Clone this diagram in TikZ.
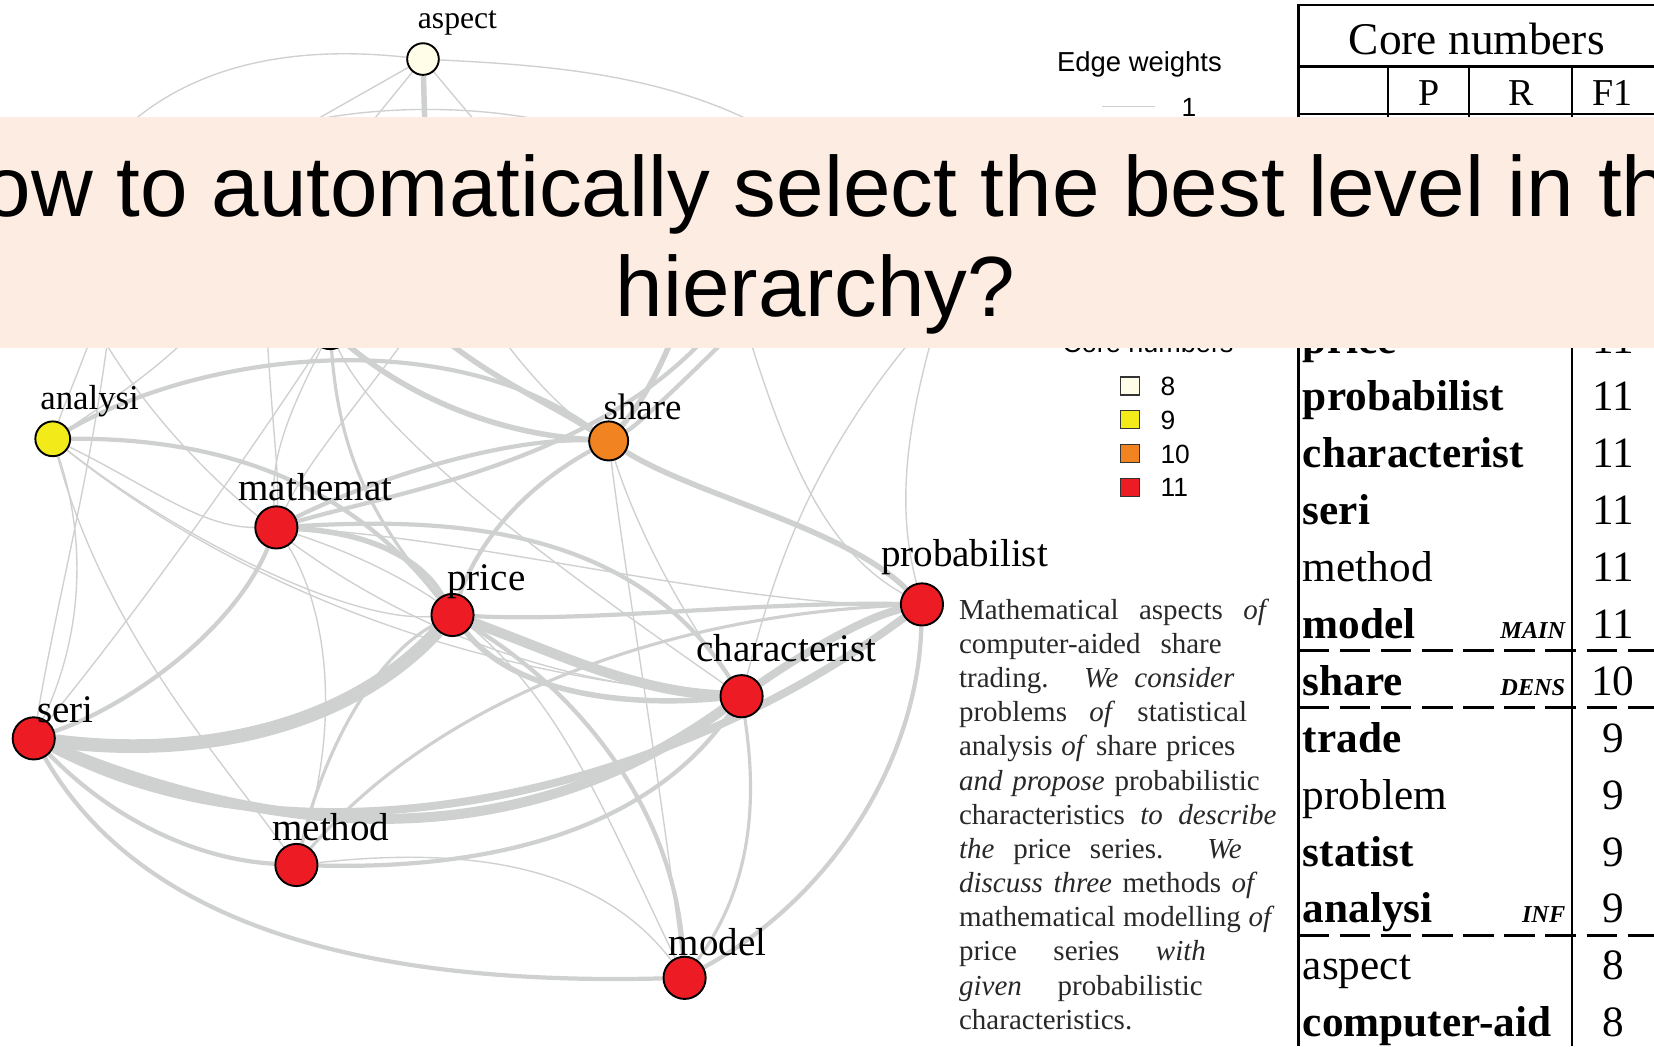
\documentclass[tikz,border=0pt]{standalone}
\usepackage{fontspec}
\setmainfont{Liberation Serif}
\newfontfamily\sansf{Liberation Sans}
\newcommand\fsz[1]{\fontsize{#1}{#1}\selectfont}
\definecolor{eg}{RGB}{207,208,208}
\definecolor{nred}{RGB}{237,28,36}
\definecolor{norange}{RGB}{241,132,32}
\definecolor{nyellow}{RGB}{242,235,25}
\definecolor{ncream}{RGB}{255,253,232}
\definecolor{bandcol}{RGB}{253,236,225}
\definecolor{abstxt}{RGB}{40,40,40}
\pgfdeclarelayer{edges}
\pgfsetlayers{edges,main}
\begin{document}
\begin{tikzpicture}[x=1pt,y=-1pt,
  vtx/.style={circle,draw=black,line width=1.8pt,inner sep=0pt,minimum size=40pt,fill=nred},
  lbl/.style={anchor=base west,inner sep=0pt,font=\fsz{37}},
  w1/.style={draw=eg,line width=1.3pt},
  w2/.style={draw=eg,line width=3pt},
  w3/.style={draw=eg,line width=4pt},
  w4/.style={draw=eg,line width=5.2pt},
  w6/.style={draw=eg,line width=7.5pt},
  w7/.style={draw=eg,line width=9.5pt},
  w10/.style={draw=eg,line width=13pt},
  absline/.style={anchor=base west,inner sep=0pt,font=\fsz{27.5},text=abstxt},
  rowr/.style={anchor=base west,inner sep=0pt,font=\fsz{41}},
  rowb/.style={anchor=base west,inner sep=0pt,font=\bfseries\fsz{41}},
  num/.style={anchor=base,inner sep=0pt,font=\fsz{41}},
  tag/.style={anchor=base east,inner sep=0pt,font=\bfseries\itshape\fsz{23}},
  rule/.style={line width=2pt},
  dashrule/.style={line width=3pt,dash pattern=on 29pt off 10pt},
  key/.style={draw=black!80,line width=1.2pt,minimum width=18pt,minimum height=17pt,inner sep=0pt},
  keytxt/.style={anchor=base west,inner sep=0pt,font=\sansf\fsz{25}}
]
\useasboundingbox (0,0) rectangle (1568,992);
\clip (0,0) rectangle (1568,992);

% ---------- vertices ----------
\node[vtx,fill=ncream,minimum size=30pt] (asp) at (401,56) {};
\node[vtx,fill=nyellow,minimum size=36pt] (trd) at (313,313) {};
\node[vtx,fill=nyellow,minimum size=33pt] (ana) at (50,416) {};
\node[vtx,fill=norange,minimum size=37pt] (sha) at (577,418) {};
\node[vtx] (mat) at (262,500) {};
\node[vtx] (pri) at (429,583) {};
\node[vtx] (pro) at (874,573) {};
\node[vtx] (cha) at (703,660) {};
\node[vtx] (ser) at (32,700) {};
\node[vtx] (met) at (281,820) {};
\node[vtx] (mod) at (649,927) {};

% vertices whose discs lie under the title band
\coordinate (hA) at (110,250);
\coordinate (hA2) at (70,270);
\coordinate (hB) at (230,260);
\coordinate (hB2) at (250,250);
\coordinate (hC) at (430,250);
\coordinate (hX) at (350,250);
\coordinate (hE) at (660,250);
\coordinate (hE2) at (690,250);
\coordinate (hF) at (720,250);
\coordinate (hF2) at (760,250);
\coordinate (hG) at (905,250);
\coordinate (hG2) at (930,250);
\coordinate (tA) at (100,140);
\coordinate (tB) at (740,130);
\coordinate (tC) at (405,200);
\coordinate (tD) at (200,170);
\coordinate (tE) at (300,180);
\coordinate (tF) at (505,180);
\coordinate (tG) at (240,130);
\coordinate (tH) at (570,130);

% ---------- weighted edges ----------
\begin{pgfonlayer}{edges}
\clip (0,0) rectangle (1568,992);
% around the top vertex
\draw[w1] (asp) .. controls (300,45) and (180,50) .. (tA);
\draw[w1] (asp) .. controls (520,62) and (640,70) .. (tB);
\draw[w4] (asp) -- (tC);
\draw[w1] (asp) -- (tD);
\draw[w1] (asp) -- (tE);
\draw[w1] (asp) -- (tF);
\draw[w1] (tG) .. controls (330,95) and (480,95) .. (tH);
% light edges
\draw[w1] (ana) .. controls (62,380) and (85,330) .. (hA);
\draw[w1] (ana) .. controls (120,370) and (180,330) .. (hB);
\draw[w1] (ser) .. controls (55,560) and (95,420) .. (hA);
\draw[w1] (ana) .. controls (85,520) and (75,610) .. (ser);
\draw[w1] (ana) .. controls (140,460) and (190,500) .. (mat);
\draw[w1] (ana) .. controls (170,510) and (330,590) .. (pri);
\draw[w1] (ana) .. controls (230,560) and (450,640) .. (cha);
\draw[w1] (ana) .. controls (100,600) and (210,720) .. (met);
\draw[w1] (ser) .. controls (130,580) and (230,440) .. (trd);
\draw[w1] (hA2) .. controls (160,460) and (380,640) .. (cha);
\draw[w1] (hB2) .. controls (256,400) and (265,440) .. (mat);
\draw[w1] (hC) .. controls (380,340) and (300,420) .. (mat);
\draw[w1] (trd) .. controls (360,420) and (560,560) .. (cha);
\draw[w1] (trd) .. controls (280,380) and (255,430) .. (mat);
\draw[w1] (mat) .. controls (300,560) and (330,660) .. (met);
\draw[w1] (mat) .. controls (500,580) and (540,700) .. (mod);
\draw[w1] (mat) .. controls (450,510) and (700,575) .. (pro);
\draw[w1] (pro) .. controls (780,520) and (740,430) .. (hE2);
\draw[w1] (pro) .. controls (850,480) and (855,400) .. (hG);
\draw[w1] (cha) .. controls (740,520) and (780,400) .. (hG2);
\draw[w1] (sha) .. controls (595,560) and (620,700) .. (mod);
\draw[w1] (sha) .. controls (610,520) and (660,600) .. (cha);
\draw[w1] (met) .. controls (420,805) and (560,810) .. (mod);
\draw[w1] (sha) .. controls (520,380) and (470,320) .. (hC);
% medium edges
\draw[w3] (ana) .. controls (200,330) and (430,310) .. (sha);
\draw[w3] (ana) .. controls (230,415) and (340,470) .. (pri);
\draw[w2] (trd) .. controls (322,440) and (360,500) .. (pri);
\draw[w4] (trd) .. controls (380,370) and (460,410) .. (sha);
\draw[w4] (hX) .. controls (420,340) and (500,370) .. (sha);
\draw[w4] (mat) .. controls (350,505) and (400,530) .. (pri);
\draw[w3] (mat) .. controls (430,490) and (600,500) .. (cha);
\draw[w3] (mat) .. controls (340,460) and (470,415) .. (sha);
\draw[w3] (mat) .. controls (400,460) and (620,430) .. (hF);
\draw[w3] (mat) .. controls (220,600) and (120,670) .. (ser);
\draw[w3] (sha) .. controls (500,460) and (455,510) .. (pri);
\draw[w4] (sha) .. controls (660,470) and (800,500) .. (pro);
\draw[w4] (sha) .. controls (610,380) and (640,330) .. (hE);
\draw[w3] (sha) .. controls (610,400) and (690,320) .. (hF2);
\draw[w3] (pri) .. controls (540,650) and (640,760) .. (mod);
\draw[w2] (met) .. controls (310,700) and (360,620) .. (pri);
\draw[w3] (ser) .. controls (110,780) and (190,815) .. (met);
\draw[w3] (met) .. controls (480,825) and (620,780) .. (cha);
\draw[w3] (ser) .. controls (130,870) and (330,935) .. (mod);
\draw[w2] (mod) .. controls (720,830) and (715,740) .. (cha);
\draw[w3] (mod) .. controls (790,850) and (870,720) .. (pro);
\draw[w3] (pri) .. controls (560,590) and (720,570) .. (pro);
\draw[w2] (met) .. controls (400,680) and (600,585) .. (pro);
% heavy edges
\draw[w10] (ser) .. controls (190,720) and (330,690) .. (pri);
\draw[w7] (pri) .. controls (530,620) and (600,655) .. (cha);
\draw[w4] (pri) .. controls (490,660) and (600,670) .. (cha);
\draw[w7] (ser) .. controls (250,790) and (480,820) .. (cha);
\draw[w6] (ser) .. controls (280,830) and (620,760) .. (pro);
\draw[w6] (cha) .. controls (760,620) and (820,585) .. (pro);
\end{pgfonlayer}

% ---------- vertex labels ----------
\node[lbl,font=\fsz{30}] (l-asp) at (396,27) {aspect};
\node[lbl,font=\fsz{33}] (l-ana) at (38,388) {analysi};
\node[lbl,font=\fsz{35}] (l-sha) at (572,398) {share};
\node[lbl] (l-mat) at (226,474) {mathemat};
\node[lbl] (l-pri) at (424,560) {price};
\node[lbl] (l-pro) at (835,537) {probabilist};
\node[lbl] (l-cha) at (660,627) {characterist};
\node[lbl] (l-ser) at (35,685) {seri};
\node[lbl] (l-met) at (258,797) {method};
\node[lbl] (l-mod) at (634,906) {model};

% ---------- legends ----------
\node[anchor=base west,inner sep=0pt,font=\sansf\fsz{26}] (ewt) at (1002,68) {Edge weights};
\coordinate (ew0) at (1045,101);
\coordinate (ew1) at (1095,101);
\draw[w1] (ew0) -- (ew1);
\node[keytxt] (ew1t) at (1120,110) {1};
\node[anchor=base west,inner sep=0pt,font=\sansf\fsz{25.6}] (cnt) at (1007,334) {Core numbers};
\node[key,fill=ncream] (k8) at (1071,366) {};
\node[key,fill=nyellow] (k9) at (1071,398) {};
\node[key,fill=norange] (k10) at (1071,430) {};
\node[key,fill=nred] (k11) at (1071,462) {};
\node[keytxt] (k8t) at (1100,375) {8};
\node[keytxt] (k9t) at (1100,407) {9};
\node[keytxt] (k10t) at (1100,439) {10};
\node[keytxt] (k11t) at (1100,471) {11};

% ---------- abstract ----------
\node[absline] (a1) at (909,587) {\makebox[294pt][s]{Mathematical aspects \textit{of}}};
\node[absline] (a2) at (909,619.4) {\makebox[249pt][s]{computer-aided share}};
\node[absline] (a3) at (909,651.8) {\makebox[261pt][s]{trading. \textit{We consider}}};
\node[absline] (a4) at (909,684.2) {\makebox[273pt][s]{problems \textit{of} statistical}};
\node[absline] (a5) at (909,716.6) {\makebox[262pt][s]{analysis \textit{of} share prices}};
\node[absline] (a6) at (909,749) {\makebox[285pt][s]{\textit{and propose} probabilistic}};
\node[absline] (a7) at (909,781.4) {\makebox[301pt][s]{characteristics \textit{to describe}}};
\node[absline] (a8) at (909,813.8) {\makebox[268pt][s]{\textit{the} price series. \textit{We}}};
\node[absline] (a9) at (909,846.2) {\makebox[283pt][s]{\textit{discuss three} methods \textit{of}}};
\node[absline] (a10) at (909,878.6) {\makebox[299pt][s]{mathematical modelling \textit{of}}};
\node[absline] (a11) at (909,911) {\makebox[234pt][s]{price series \textit{with}}};
\node[absline] (a12) at (909,943.4) {\makebox[231pt][s]{\textit{given} probabilistic}};
\node[absline] (a13) at (909,975.8) {characteristics.};

% ---------- table ----------
\draw[rule] (1231,4) -- (1231,992);
\draw[rule] (1231,5) -- (1568,5);
\draw[rule] (1231,63) -- (1568,63);
\draw[rule] (1231,108) -- (1568,108);
\draw[rule] (1316,63) -- (1316,150);
\draw[rule] (1393,63) -- (1393,150);
\draw[rule] (1490,63) -- (1490,992);
\node[anchor=base,inner sep=0pt,font=\fsz{43}] (hcore) at (1400,52) {Core numbers};
\node[anchor=base,inner sep=0pt,font=\fsz{36}] (hp) at (1355,100) {P};
\node[anchor=base,inner sep=0pt,font=\fsz{36}] (hr) at (1442,100) {R};
\node[anchor=base,inner sep=0pt,font=\fsz{36}] (hf) at (1529,100) {F1};

\node[rowb] (w1n) at (1235,335) {price};
\node[rowb] (w2n) at (1235,389) {probabilist};
\node[rowb] (w3n) at (1235,443) {characterist};
\node[rowb] (w4n) at (1235,497) {seri};
\node[rowr] (w5n) at (1235,551) {method};
\node[rowb] (w6n) at (1235,605) {model};
\node[rowb] (w7n) at (1235,659) {share};
\node[rowb] (w8n) at (1235,713) {trade};
\node[rowr] (w9n) at (1235,767) {problem};
\node[rowb] (w10n) at (1235,821) {statist};
\node[rowb] (w11n) at (1235,875) {analysi};
\node[rowr] (w12n) at (1235,929) {aspect};
\node[rowb] (w13n) at (1235,983) {computer-aid};

\node[tag] (tmain) at (1484,605) {MAIN};
\node[tag] (tdens) at (1484,659) {DENS};
\node[tag] (tinf) at (1484,875) {INF};

\node[num] (n1) at (1529,335) {11};
\node[num] (n2) at (1529,389) {11};
\node[num] (n3) at (1529,443) {11};
\node[num] (n4) at (1529,497) {11};
\node[num] (n5) at (1529,551) {11};
\node[num] (n6) at (1529,605) {11};
\node[num] (n7) at (1529,659) {10};
\node[num] (n8) at (1529,713) {9};
\node[num] (n9) at (1529,767) {9};
\node[num] (n10) at (1529,821) {9};
\node[num] (n11) at (1529,875) {9};
\node[num] (n12) at (1529,929) {8};
\node[num] (n13) at (1529,983) {8};

\draw[dashrule] (1231,617) -- (1568,617);
\draw[dashrule] (1231,671) -- (1568,671);
\draw[dashrule] (1231,887) -- (1568,887);

% ---------- title band ----------
\node[fill=bandcol,anchor=north west,inner sep=0pt,minimum width=1568pt,minimum height=219pt] (band) at (0,111) {};
\node[anchor=base,inner sep=0pt,font=\sansf\fsz{81}] (t1) at (777,205) {How to automatically select the best level in the};
\node[anchor=base,inner sep=0pt,font=\sansf\fsz{81}] (t2) at (773,300) {hierarchy?};
\end{tikzpicture}
\end{document}
